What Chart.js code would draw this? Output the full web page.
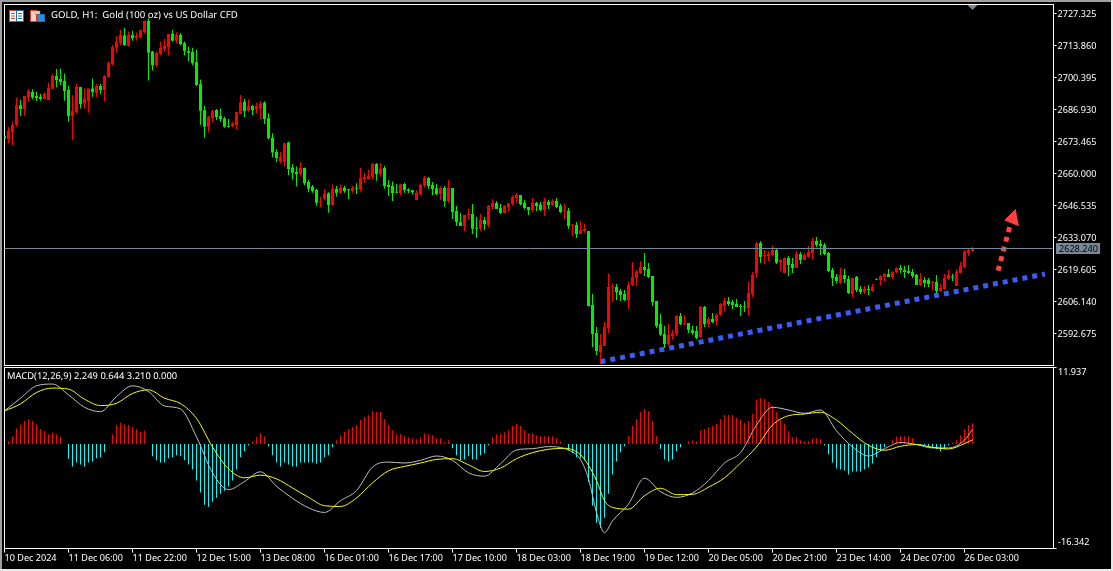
<!DOCTYPE html>
<html>
<head>
<meta charset="utf-8">
<title>GOLD H1</title>
<script src="https://cdn.jsdelivr.net/npm/chart.js@4/dist/chart.umd.min.js"></script>
<style>
    html, body { margin: 0; padding: 0; background: #000; }
    body { width: 1113px; height: 571px; position: relative; overflow: hidden; font-family: "Noto Sans", sans-serif; }
    canvas { position: absolute; left: 0; }
    #priceChart { top: 0; }
    #macdChart { top: 366px; }
    .edge { position: absolute; background: #a0a0a0; }
    .caption { position: absolute; color: #fff; line-height: 12px; white-space: pre; text-rendering: geometricPrecision; }
    svg { position: absolute; }
</style>
</head>
<body>
<canvas id="priceChart" width="1113" height="366"></canvas>
<canvas id="macdChart" width="1113" height="205"></canvas>
<div class="edge" style="left:0;top:0;width:1113px;height:2px"></div>
<div class="edge" style="left:0;top:0;width:2px;height:571px"></div>
<div class="edge" style="left:1111px;top:0;width:2px;height:571px;background:#e8e8e8"></div>
<div class="edge" style="left:0;top:569px;width:1113px;height:2px;background:#e8e8e8"></div>
<svg style="left:9px;top:10px" width="15" height="12">
    <rect x="0.5" y="0.5" width="7" height="11" fill="#fff" stroke="#e0402a"/>
    <rect x="7.5" y="0.5" width="7" height="11" fill="#fff" stroke="#1a6fb5"/>
    <path d="M2 3.5h4M2 6h4M2 8.5h4" stroke="#e0402a"/>
    <path d="M9 3.5h4M9 6h4M9 8.5h4" stroke="#1a6fb5"/>
</svg>
<svg style="left:30px;top:10px" width="15" height="12">
    <rect x="0.5" y="0.5" width="6" height="11" fill="#fbd0c8" stroke="#e0402a"/>
    <rect x="7.5" y="4.5" width="7" height="7" fill="#2f8fd8" stroke="#1a6fb5"/>
    <rect x="5" y="1" width="5" height="3" fill="#ddd" stroke="#888" stroke-width="0.5"/>
</svg>
<div class="caption" style="left:51px;top:9px;font-size:9.6px">GOLD, H1:  Gold (100 oz) vs US Dollar CFD</div>
<div class="caption" style="left:7px;top:370px;font-size:9.4px">MACD(12,26,9) 2.249 0.644 3.210 0.000</div>

<script>
// Eixo de tempo
const tickIndex = [0, 16, 32, 48, 64, 80, 96, 112, 128, 144, 160, 176, 192, 208, 224, 240];
const tickLabels = ['10 Dec 2024', '11 Dec 06:00', '11 Dec 22:00', '12 Dec 15:00', '13 Dec 08:00', '16 Dec 01:00',
    '16 Dec 17:00', '17 Dec 10:00', '18 Dec 03:00', '18 Dec 19:00', '19 Dec 12:00', '20 Dec 05:00',
    '20 Dec 21:00', '23 Dec 14:00', '24 Dec 07:00', '26 Dec 03:00'];
const lastSlot = 262;

// Eixo de preço
const priceTicks = [2727.325, 2713.86, 2700.395, 2686.93, 2673.465, 2660, 2646.535, 2633.07, 2619.605, 2606.14, 2592.675];
const priceMax = 2731.112;
const priceMin = 2579.21;
const lastPrice = 2628.24;

// Candles H1
const opens = [
    2675.8,2674.4,2677.5,2680.5,2688.7,2687.0,2692.0,2694.3,2692.6,2692.3,
    2691.3,2690.9,2695.7,2701.0,2699.8,2698.9,2695.1,2684.2,2685.9,2696.4,
    2689.5,2690.4,2695.8,2693.9,2696.8,2695.1,2700.6,2706.1,2712.9,2715.0,
    2718.1,2713.8,2718.3,2717.0,2717.2,2719.4,2724.2,2711.3,2705.5,2710.3,
    2712.4,2713.1,2718.8,2715.9,2718.3,2714.8,2711.5,2711.1,2706.8,2697.7,
    2686.6,2679.7,2683.2,2686.7,2684.2,2683.3,2679.7,2680.0,2680.4,2685.0,
    2690.2,2686.4,2688.4,2687.0,2687.4,2689.8,2683.3,2674.9,2669.0,2665.0,
    2664.7,2673.0,2662.5,2660.6,2659.9,2662.3,2656.4,2654.5,2653.1,2647.7,
    2649.5,2651.7,2646.7,2653.5,2651.9,2654.0,2653.2,2652.6,2654.0,2653.3,
    2657.7,2657.7,2658.5,2664.0,2659.8,2662.3,2655.2,2654.7,2652.1,2651.8,
    2655.6,2653.3,2652.9,2648.9,2651.4,2655.2,2658.1,2655.2,2653.8,2651.4,
    2653.9,2648.3,2653.9,2644.2,2639.6,2637.9,2642.4,2643.0,2637.1,2636.7,
    2640.4,2638.3,2645.9,2647.6,2645.5,2643.4,2645.8,2647.2,2649.7,2651.0,
    2647.6,2645.9,2644.6,2647.6,2647.0,2644.6,2648.0,2646.7,2648.4,2646.3,
    2644.1,2644.2,2638.2,2638.3,2634.5,2635.8,2635.8,2604.7,2592.9,2584.9,
    2587.4,2595.0,2612.1,2612.2,2610.6,2609.3,2606.8,2613.1,2616.0,2618.1,
    2620.7,2619.8,2616.9,2606.4,2596.7,2592.5,2588.3,2591.6,2592.5,2600.0,
    2596.5,2597.1,2594.2,2593.7,2591.2,2603.8,2596.7,2598.8,2597.9,2600.5,
    2604.2,2606.4,2605.9,2605.1,2604.2,2603.8,2603.4,2609.3,2618.1,2630.8,
    2625.3,2625.3,2625.7,2627.8,2622.8,2618.1,2624.4,2621.9,2620.2,2626.1,
    2623.6,2624.9,2626.6,2631.6,2630.3,2629.9,2626.6,2619.4,2616.4,2613.9,
    2617.3,2615.6,2609.3,2616.4,2611.4,2610.1,2611.4,2610.6,2615.6,2615.2,
    2616.4,2617.7,2616.4,2618.6,2620.2,2619.5,2619.0,2618.6,2617.3,2613.1,
    2615.2,2615.2,2613.9,2614.3,2610.6,2611.4,2615.6,2616.4,2612.7,2618.1,
    2620.6,2626.6,2627.4
];
const highs = [
    2675.8,2679.7,2681.8,2692.0,2690.9,2692.6,2695.4,2695.4,2694.4,2693.4,
    2694.1,2698.2,2701.9,2704.0,2704.2,2702.1,2696.8,2693.0,2697.9,2696.4,
    2695.8,2695.8,2700.0,2697.7,2697.7,2701.4,2707.1,2714.1,2717.9,2720.4,
    2721.2,2719.7,2720.1,2719.3,2720.4,2724.3,2725.3,2711.5,2711.3,2715.6,
    2716.7,2718.7,2720.4,2719.4,2719.1,2715.5,2713.4,2712.9,2712.0,2699.6,
    2688.4,2684.2,2686.7,2687.1,2687.4,2683.9,2682.9,2681.8,2686.0,2693.0,
    2691.5,2691.2,2688.8,2689.8,2690.5,2690.4,2685.3,2676.9,2670.3,2669.2,
    2672.7,2673.4,2664.0,2662.9,2664.7,2662.5,2657.3,2655.2,2653.6,2650.2,
    2653.3,2652.1,2655.4,2654.7,2655.4,2654.7,2653.6,2654.7,2655.9,2662.3,
    2660.1,2661.5,2664.4,2664.4,2664.3,2663.2,2657.3,2656.6,2655.6,2655.6,
    2656.1,2653.8,2653.1,2652.9,2655.9,2659.0,2658.5,2656.4,2655.6,2654.6,
    2654.7,2657.3,2653.9,2646.3,2643.4,2642.5,2645.3,2647.2,2641.8,2643.0,
    2641.7,2646.7,2649.3,2648.4,2647.2,2646.7,2647.6,2650.7,2651.8,2651.0,
    2648.9,2645.9,2649.7,2648.0,2648.0,2649.7,2648.9,2649.3,2649.7,2647.2,
    2647.5,2645.5,2638.8,2639.6,2640.0,2639.0,2635.8,2609.3,2595.4,2592.5,
    2597.5,2618.0,2613.8,2613.5,2611.4,2611.0,2614.3,2622.8,2619.4,2623.2,
    2626.6,2622.3,2616.9,2606.4,2600.9,2595.8,2596.7,2594.2,2600.5,2601.3,
    2600.5,2597.1,2595.8,2595.8,2604.2,2604.2,2599.6,2601.3,2601.3,2605.5,
    2607.6,2608.0,2606.8,2607.2,2605.1,2606.4,2614.3,2618.6,2631.2,2631.6,
    2627.8,2627.4,2629.5,2628.2,2624.0,2624.9,2625.3,2624.4,2627.4,2627.0,
    2626.6,2629.5,2632.9,2633.3,2632.0,2630.8,2627.0,2620.2,2617.7,2620.2,
    2619.8,2616.9,2616.0,2616.9,2612.7,2612.7,2613.1,2613.5,2615.6,2617.3,
    2618.1,2619.8,2619.0,2620.6,2621.5,2621.1,2621.5,2619.8,2617.7,2618.1,
    2616.4,2616.0,2614.8,2617.3,2613.5,2617.7,2619.4,2617.7,2619.8,2622.8,
    2627.8,2628.2,2629.1
];
const lows = [
    2674.7,2672.7,2672.0,2679.7,2684.2,2684.3,2690.2,2691.2,2690.5,2690.6,
    2691.2,2690.9,2695.4,2696.3,2697.2,2690.6,2681.8,2674.1,2685.3,2687.4,
    2687.4,2685.6,2692.3,2692.2,2693.3,2690.5,2700.5,2705.4,2710.8,2714.1,
    2713.6,2713.4,2715.9,2715.9,2716.9,2719.0,2699.1,2703.3,2704.9,2709.9,
    2711.3,2709.6,2715.5,2714.8,2714.1,2709.6,2707.1,2705.6,2696.8,2680.4,
    2675.2,2677.2,2681.5,2682.5,2681.8,2679.3,2679.4,2679.4,2678.6,2685.0,
    2683.8,2686.0,2684.6,2685.3,2682.8,2680.8,2674.4,2666.8,2664.8,2664.3,
    2662.9,2659.4,2657.5,2654.5,2658.7,2655.2,2652.1,2651.9,2646.3,2645.8,
    2648.8,2643.5,2646.5,2650.3,2651.4,2651.9,2649.3,2651.9,2651.4,2652.4,
    2656.1,2657.5,2657.7,2657.0,2658.7,2653.6,2650.5,2648.4,2651.8,2651.0,
    2651.9,2651.7,2651.2,2648.9,2651.0,2654.0,2653.6,2651.0,2651.0,2648.9,
    2646.0,2647.7,2640.9,2637.9,2637.9,2635.8,2640.4,2634.5,2632.9,2635.9,
    2636.2,2637.4,2645.1,2645.1,2643.0,2643.2,2644.2,2646.7,2647.7,2646.7,
    2644.9,2642.5,2643.8,2644.2,2644.2,2642.1,2645.1,2646.3,2645.5,2643.4,
    2640.9,2636.7,2633.7,2632.9,2634.5,2635.1,2604.0,2587.0,2583.6,2579.8,
    2587.4,2592.9,2605.9,2606.8,2606.4,2606.4,2603.0,2612.7,2612.7,2617.7,
    2616.9,2616.0,2604.2,2595.0,2591.6,2586.6,2587.4,2590.0,2591.6,2596.2,
    2596.2,2592.9,2592.1,2590.4,2590.8,2595.4,2595.4,2597.1,2596.2,2600.0,
    2602.1,2604.2,2603.0,2603.8,2600.0,2601.7,2600.0,2608.0,2616.0,2622.4,
    2621.9,2623.2,2625.3,2621.9,2619.0,2618.1,2616.9,2618.1,2620.2,2621.9,
    2623.6,2624.4,2624.0,2629.1,2625.7,2625.7,2618.6,2612.7,2613.9,2613.5,
    2613.9,2609.3,2608.0,2610.1,2609.3,2609.3,2608.9,2610.1,2615.3,2613.1,
    2614.3,2616.4,2615.6,2618.1,2618.1,2616.0,2617.7,2616.0,2613.1,2612.7,
    2612.2,2612.2,2611.0,2609.7,2610.1,2611.0,2615.2,2614.8,2612.7,2618.1,
    2620.2,2625.3,2627.0
];
const closes = [
    2674.7,2677.9,2680.4,2688.7,2687.1,2692.6,2694.8,2692.0,2691.8,2691.3,
    2693.7,2696.0,2701.2,2699.2,2698.5,2694.7,2684.2,2686.3,2696.4,2689.2,
    2691.5,2695.8,2694.3,2696.8,2695.1,2701.0,2706.5,2713.2,2715.5,2718.4,
    2714.1,2718.3,2716.9,2717.9,2720.4,2724.3,2710.8,2705.6,2710.7,2712.8,
    2713.8,2718.7,2715.9,2718.3,2714.5,2711.5,2710.8,2706.4,2697.2,2686.4,
    2679.7,2683.9,2686.3,2683.8,2682.8,2679.7,2679.6,2681.0,2685.9,2689.9,
    2686.2,2688.3,2686.7,2688.4,2689.5,2682.9,2674.8,2668.8,2666.5,2667.1,
    2672.7,2661.9,2660.3,2659.8,2662.5,2655.9,2653.6,2652.6,2647.7,2648.1,
    2651.4,2646.7,2653.5,2651.9,2653.9,2652.6,2652.9,2654.0,2653.6,2658.1,
    2658.5,2659.0,2664.1,2659.8,2661.9,2654.7,2654.3,2651.8,2651.9,2655.4,
    2653.1,2652.6,2652.2,2651.8,2655.2,2658.1,2654.7,2653.5,2651.4,2653.9,
    2648.4,2653.9,2643.8,2639.6,2637.9,2642.5,2643.0,2636.7,2636.8,2640.4,
    2638.8,2646.3,2647.6,2645.1,2643.4,2646.3,2647.5,2650.1,2651.0,2647.2,
    2645.5,2644.6,2647.6,2646.3,2644.6,2648.4,2646.7,2648.4,2645.9,2643.8,
    2644.2,2637.9,2638.3,2634.5,2636.2,2636.7,2604.2,2592.5,2585.3,2587.8,
    2595.4,2612.2,2612.2,2610.1,2608.9,2606.8,2613.1,2616.5,2618.6,2620.7,
    2619.4,2616.5,2605.9,2595.8,2592.1,2588.3,2592.1,2592.8,2600.0,2596.7,
    2596.7,2594.2,2592.9,2590.8,2603.8,2596.7,2598.8,2597.5,2600.5,2605.1,
    2606.4,2605.1,2604.7,2603.8,2603.8,2603.7,2609.7,2617.3,2630.4,2624.9,
    2625.7,2626.1,2627.8,2622.4,2623.6,2624.4,2621.5,2620.2,2626.1,2623.6,
    2625.7,2627.0,2631.6,2629.9,2629.5,2626.1,2619.0,2616.0,2614.8,2617.3,
    2615.6,2609.7,2616.0,2611.0,2610.1,2611.4,2611.0,2612.2,2615.3,2616.9,
    2617.7,2616.4,2618.6,2620.2,2619.4,2618.6,2618.1,2616.9,2613.1,2615.6,
    2613.9,2613.5,2614.3,2610.6,2611.8,2616.0,2617.3,2616.2,2618.6,2621.1,
    2627.0,2627.8,2628.24
];

// Linha de tendência e seta desenhadas no gráfico
const trendSlots = [149, 260.1];
const trendPrices = [2580.8, 2617.7];
const arrowSlots = [248.4, 251.6];
const arrowPrices = [2619.1, 2639.5];
const arrowHeadSlots = [252.8, 250.1, 253.6];
const arrowHeadPrices = [2644.9, 2640.4, 2638.0];

// MACD(12,26,9)
const macdTicks = [11.937, -16.342];
const macdHist = [
    0,0.42,1.21,2.42,3.05,3.57,3.89,3.62,3.05,2.31,
    2.0,1.52,1.79,1.52,1.10,0,-2.31,-3.52,-2.89,-3.2,
    -3.52,-2.89,-2.73,-2.26,-2.1,-1.31,0,1.52,2.94,3.31,
    3.05,2.94,2.68,2.31,1.89,2.05,0,-1.94,-2.57,-2.89,
    -2.89,-2.26,-2.1,-1.79,-1.94,-2.57,-3.2,-3.99,-5.72,-7.61,
    -9.5,-9.82,-9.03,-8.4,-7.77,-7.3,-6.67,-5.72,-3.99,-2.1,
    -1.15,-0.21,0.42,1.1,1.68,1.21,-0.37,-1.79,-2.89,-3.52,
    -2.89,-3.2,-3.52,-3.52,-2.89,-2.89,-2.89,-2.89,-3.1,-2.89,
    -2.1,-1.79,-0.53,0.58,1.37,1.89,2.31,2.63,2.94,3.73,
    4.2,4.52,5.15,4.99,4.99,3.89,2.94,2.15,1.52,1.52,
    1.21,1.05,0.89,0.73,1.05,1.68,1.52,1.37,0.89,0.89,
    0.26,0.58,-0.68,-1.79,-2.57,-2.42,-1.94,-2.42,-2.42,-1.79,
    -1.47,-0.21,1.05,1.52,1.52,1.84,2.15,2.78,3.1,2.78,
    2.15,1.68,1.68,1.37,1.21,1.21,1.21,1.21,0.89,0.42,
    0.1,-1.0,-1.47,-2.1,-2.26,-2.57,-6.0,-9.66,-12.3,-13.1,
    -11.55,-7.77,-4.78,-2.73,-1.31,-0.37,1.21,2.78,3.89,4.99,
    5.46,5.15,3.57,1.21,-0.74,-2.42,-2.73,-2.42,-1.15,-0.53,
    0,0.42,0.53,0.42,2.15,2.31,2.63,2.78,3.1,3.89,
    4.52,4.52,4.52,4.05,3.73,3.26,3.57,4.68,6.88,7.19,
    7.04,6.56,5.93,4.99,3.73,3.1,2.0,1.05,1.05,0.58,
    0.42,0.42,0.89,0.89,0.73,-0.21,-1.63,-2.89,-3.83,-3.99,
    -4.15,-4.78,-4.31,-4.31,-4.31,-3.99,-3.68,-3.05,-2.1,-1.15,
    -0.53,0,0.58,1.15,1.21,1.21,1.15,0.89,0,-0.21,
    -0.21,-0.53,-0.63,-0.84,-1.15,-0.84,-0.21,0.21,0.58,1.37,
    2.31,2.94,3.21
];
const macdSlots = [0,4,8,12,16,20,24,28,32,36,40,44,48,52,56,60,64,68,72,76,80,84,88,92,96,100,104,108,112,116,120,
    124,128,132,136,140,144,146,148,150,152,156,160,164,168,172,176,180,184,188,192,196,200,204,208,212,216,220,224,
    228,232,236,240,242];
const macdLine = [5.15,7.14,9.08,9.35,7.67,5.72,5.04,7.4,9.08,8.19,5.93,5.46,1.1,-4.52,-7.14,-5.88,-4.36,-6.62,-8.5,
    -9.98,-10.71,-8.87,-7.3,-3.62,-2.84,-2.99,-2.57,-1.89,-2.57,-4.52,-5.04,-3.1,-0.95,-0.74,-0.42,-0.74,-2.47,-5.46,
    -10.71,-13.86,-12.02,-9.4,-5.36,-7.46,-8.35,-7.67,-5.72,-2.99,-1.37,2.94,5.72,5.3,4.78,5.3,2.05,-0.47,-1.89,-0.74,
    0.21,-0.1,-0.63,-0.63,0.58,2.25];
const signalLine = [5.15,6.25,8.03,8.72,8.56,6.98,5.99,6.35,7.88,8.45,7.14,6.3,3.99,-0.47,-3.89,-5.3,-4.88,-5.46,-6.88,
    -8.35,-9.66,-9.77,-8.45,-6.09,-4.2,-3.52,-2.99,-2.42,-2.31,-3.26,-4.31,-3.78,-2.31,-1.37,-0.84,-0.68,-1.68,-3.36,
    -5.72,-8.87,-9.92,-10.19,-8.09,-6.93,-7.93,-7.88,-6.77,-5.3,-2.99,-0.47,2.94,4.41,4.67,4.94,3.73,1.63,-0.21,-1.0,
    -0.37,-0.1,-0.53,-0.79,0.05,0.64];

const COLOR_UP = '#ff0000';
const COLOR_DOWN = '#00ee00';
const COLOR_TAG = '#778899';
const FONT = { family: '"Noto Sans", sans-serif', size: 9.1 };

Chart.defaults.animation = false;
Chart.defaults.responsive = false;
Chart.defaults.devicePixelRatio = 1;

// Cor de cada candle conforme alta ou baixa
const candleColors = closes.map((c, i) => (c >= opens[i] ? COLOR_UP : COLOR_DOWN));

// Moldura branca do painel
const framePlugin = {
    id: 'frame',
    beforeDatasetsDraw(chart) {
        const { ctx, chartArea: a } = chart;
        ctx.save();
        ctx.strokeStyle = '#fff';
        ctx.lineWidth = 1;
        ctx.strokeRect(a.left, a.top, a.right - a.left + 1, a.bottom - a.top);
        ctx.restore();
    }
};

// Linha do último preço, etiqueta e marcador do último candle
const lastPricePlugin = {
    id: 'lastPrice',
    afterDraw(chart) {
        const { ctx, chartArea: a, scales } = chart;
        const y = Math.floor(scales.y.getPixelForValue(lastPrice)) + 0.5;
        const x = scales.x.getPixelForValue(closes.length - 1);
        ctx.save();
        ctx.strokeStyle = COLOR_TAG;
        ctx.beginPath();
        ctx.moveTo(a.left, y);
        ctx.lineTo(a.right, y);
        ctx.stroke();
        ctx.fillStyle = COLOR_TAG;
        ctx.fillRect(1056, y - 5.5, 44, 11);
        ctx.beginPath();
        ctx.moveTo(x - 5, 5);
        ctx.lineTo(x + 5, 5);
        ctx.lineTo(x, 10);
        ctx.closePath();
        ctx.fill();
        ctx.fillStyle = '#000';
        ctx.font = `${FONT.size}px ${FONT.family}`;
        ctx.textBaseline = 'middle';
        ctx.fillText(lastPrice.toFixed(3), 1059, y + 0.5);
        ctx.restore();
    }
};

// Rótulos do MACD ficam dentro da faixa, não centrados no traço
const macdLabelPlugin = {
    id: 'macdLabels',
    afterDraw(chart) {
        const { ctx, scales } = chart;
        ctx.save();
        ctx.fillStyle = '#fff';
        ctx.font = `${FONT.size}px ${FONT.family}`;
        ctx.textBaseline = 'middle';
        macdTicks.forEach((v, i) => {
            const shift = i === 0 ? 5 : -6;
            ctx.fillText(v.toFixed(3), 1058, scales.y.getPixelForValue(v) + shift);
        });
        ctx.restore();
    }
};

function fitRightAxis(axis) {
    axis.width = 60.5;
    axis.paddingTop = 0;
    axis.paddingBottom = 0;
}

function xScale(showLabels) {
    return {
        type: 'linear',
        display: showLabels,
        offset: false,
        min: 0,
        max: lastSlot,
        afterBuildTicks(axis) {
            axis.ticks = tickIndex.map(v => ({ value: v }));
        },
        grid: { offset: false, drawOnChartArea: false, tickLength: 4, tickColor: '#fff' },
        border: { display: false },
        ticks: {
            color: '#fff',
            font: FONT,
            align: 'start',
            padding: 0,
            maxRotation: 0,
            autoSkip: false,
            callback: v => tickLabels[tickIndex.indexOf(v)]
        },
        afterFit(axis) {
            axis.paddingLeft = 0;
            axis.paddingRight = 0;
            if (showLabels) axis.height = 22.5;
        }
    };
}

new Chart(document.getElementById('priceChart'), {
    type: 'bar',
    data: {
        datasets: [
            {
                data: closes.map((c, i) => ({ x: i, y: [lows[i], highs[i]] })),
                backgroundColor: candleColors,
                barThickness: 1,
                inflateAmount: 0,
                grouped: false,
                minBarLength: 1
            },
            {
                data: closes.map((c, i) => ({ x: i, y: [opens[i], c] })),
                backgroundColor: candleColors,
                barThickness: 3,
                inflateAmount: 0,
                grouped: false,
                minBarLength: 1
            },
            {
                type: 'line',
                data: trendSlots.map((x, i) => ({ x: x, y: trendPrices[i] })),
                borderColor: '#3d5bf5',
                borderWidth: 5,
                borderDash: [5, 5],
                pointRadius: 0
            },
            {
                type: 'line',
                data: arrowSlots.map((x, i) => ({ x: x, y: arrowPrices[i] })),
                borderColor: '#ff4040',
                borderWidth: 5,
                borderDash: [5, 5],
                pointRadius: 0
            },
            {
                type: 'line',
                data: arrowHeadSlots.map((x, i) => ({ x: x, y: arrowHeadPrices[i] })),
                borderColor: '#ff4040',
                borderWidth: 1,
                backgroundColor: '#ff4040',
                fill: 'shape',
                pointRadius: 0
            }
        ]
    },
    options: {
        layout: { padding: { left: 4.5, top: 4.5, right: 0, bottom: 0.5 } },
        plugins: { legend: { display: false }, tooltip: { enabled: false }, title: { display: false } },
        scales: {
            x: xScale(false),
            y: {
                position: 'right',
                min: priceMin,
                max: priceMax,
                afterBuildTicks(axis) {
                    axis.ticks = priceTicks.map(v => ({ value: v }));
                },
                afterFit: fitRightAxis,
                grid: { drawOnChartArea: false, tickLength: 4, tickColor: '#fff' },
                border: { display: false },
                ticks: { color: '#fff', font: FONT, padding: 1, labelOffset: 1, callback: v => v.toFixed(3) }
            }
        }
    },
    plugins: [framePlugin, lastPricePlugin]
});

new Chart(document.getElementById('macdChart'), {
    type: 'bar',
    data: {
        datasets: [
            {
                data: macdHist.map((v, i) => ({ x: i, y: v })),
                backgroundColor: macdHist.map(v => (v >= 0 ? '#ff0000' : '#00ffff')),
                barThickness: 1,
                inflateAmount: 0,
                order: 3
            },
            {
                type: 'line',
                data: macdSlots.map((x, i) => ({ x: x, y: macdLine[i] })),
                borderColor: '#c0c0c0',
                borderWidth: 1,
                cubicInterpolationMode: 'monotone',
                pointRadius: 0,
                order: 2
            },
            {
                type: 'line',
                data: macdSlots.map((x, i) => ({ x: x, y: signalLine[i] })),
                borderColor: '#ffff00',
                borderWidth: 1,
                cubicInterpolationMode: 'monotone',
                pointRadius: 0,
                order: 1
            }
        ]
    },
    options: {
        layout: { padding: { left: 4.5, top: 1.5, right: 0, bottom: 0 } },
        plugins: { legend: { display: false }, tooltip: { enabled: false }, title: { display: false } },
        scales: {
            x: xScale(true),
            y: {
                position: 'right',
                min: macdTicks[1],
                max: macdTicks[0],
                afterBuildTicks(axis) {
                    axis.ticks = macdTicks.map(v => ({ value: v }));
                },
                afterFit: fitRightAxis,
                grid: { drawOnChartArea: false, tickLength: 4, tickColor: '#fff' },
                border: { display: false },
                ticks: { display: false }
            }
        }
    },
    plugins: [framePlugin, macdLabelPlugin]
});
</script>
</body>
</html>
